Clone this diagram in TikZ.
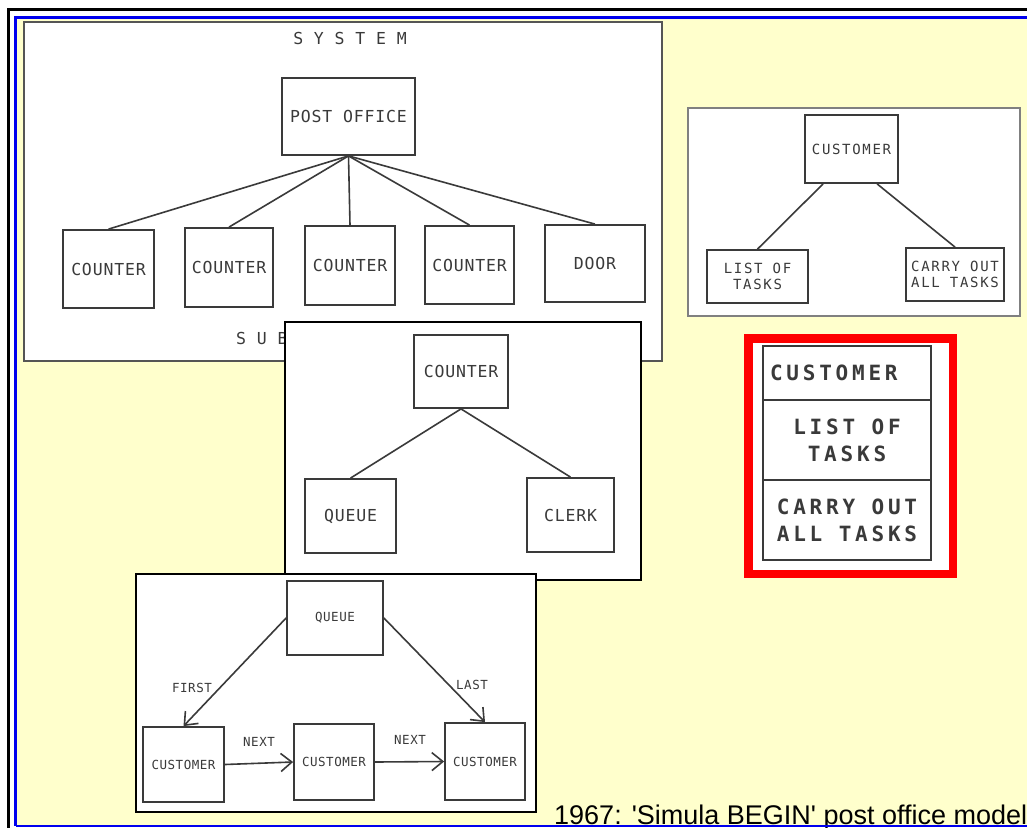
\documentclass[tikz,border=0pt]{standalone}
\usepackage{fontspec}
\usetikzlibrary{arrows.meta,calc}
\newfontfamily\twA{DejaVu Sans Mono}[LetterSpace=5]
\newfontfamily\twB{DejaVu Sans Mono}[LetterSpace=4]
\newfontfamily\twC{DejaVu Sans Mono}[LetterSpace=12]
\newfontfamily\twD{DejaVu Sans Mono Bold}[LetterSpace=18]
\newfontfamily\capfont{Liberation Sans}[Ligatures=TeXOff]
\newcommand\wsp{\hspace*{16.4pt}}
\definecolor{ink}{HTML}{3A3A3A}
\definecolor{paper}{HTML}{FFFFCC}
\definecolor{frameblue}{HTML}{0000EE}
\definecolor{panelgray}{HTML}{555555}
\tikzset{
  panel/.style={draw=#1, fill=white, line width=1.2pt, inner sep=0pt},
  bx/.style={draw=ink, line width=1.8pt, fill=white, inner sep=0pt, text=ink, align=center},
  lab/.style={text=ink, inner sep=0pt},
  ln/.style={draw=ink, line width=1.6pt},
  arr/.style={draw=ink, line width=1.6pt, -{Straight Barb[length=11pt,width=18pt]}},
  fA/.style={font=\twA\fontsize{16.5}{18}\selectfont},
  fB/.style={font=\twB\fontsize{12.5}{14}\selectfont},
  fC/.style={font=\twC\fontsize{14}{16}\selectfont},
  fD/.style={font=\twD\fontsize{21}{27}\selectfont},
  cell/.style={draw=ink, line width=2.2pt, fill=white, inner ysep=0pt, text=ink, fD}
}
\begin{document}
\begin{tikzpicture}[x=1pt,y=-1pt]
\useasboundingbox (0,0) rectangle (1027,827);
\clip (0,0) rectangle (1027,827);
\fill[white] (0,0) rectangle (1027,827);
% page frame
\fill[paper] (17,19) rectangle (1030,825);
\draw[black, line width=3pt] (1030,9.5) -- (8.5,9.5) -- (8.5,830);
\draw[frameblue, line width=2.5pt] (1030,17.5) -- (15.5,17.5) -- (15.5,826);

% ---------- panel 1: system ----------
\node[panel=panelgray, minimum width=638pt, minimum height=339pt] (p1) at (343,191.5) {};
\node[lab, fA] (sys) at (350,38) {S Y S T E M};
\node[bx, fA, minimum width=133pt, minimum height=77pt] (po) at (348.5,116.5) {POST OFFICE};
\node[bx, fA, minimum width=91pt, minimum height=78pt] (c1) at (108.5,269) {COUNTER};
\node[bx, fA, minimum width=88pt, minimum height=79pt] (c2) at (229,267.5) {COUNTER};
\node[bx, fA, minimum width=90pt, minimum height=79pt] (c3) at (350,265.5) {COUNTER};
\node[bx, fA, minimum width=89pt, minimum height=78pt] (c4) at (469.5,265) {COUNTER};
\node[bx, fA, minimum width=100pt, minimum height=77pt] (c5) at (595,263.5) {DOOR};
\foreach \c in {c1,c2,c3,c4,c5} \draw[ln] (po.south) -- (\c.north);
\node[lab, fA, anchor=west] (sub) at (236,338) {S U B};

% ---------- panel 2: counter ----------
\node[panel=black, minimum width=356pt, minimum height=258pt] (p2) at (463,451) {};
\node[bx, fA, minimum width=94pt, minimum height=73pt] (ct) at (461,371.5) {COUNTER};
\node[bx, fA, minimum width=91pt, minimum height=74pt] (qu) at (350.5,516) {QUEUE};
\node[bx, fA, minimum width=87pt, minimum height=74pt] (cl) at (570.5,515) {CLERK};
\draw[ln] (ct.south) -- (qu.north);
\draw[ln] (ct.south) -- (cl.north);

% ---------- panel 3: queue ----------
\node[panel=black, minimum width=400pt, minimum height=238pt] (p3) at (336,693) {};
\node[bx, fB, minimum width=96pt, minimum height=74pt] (q) at (335,618) {QUEUE};
\node[bx, fB, minimum width=81pt, minimum height=75pt] (k1) at (183.5,764.5) {CUSTOMER};
\node[bx, fB, minimum width=80pt, minimum height=76pt] (k2) at (334,762) {CUSTOMER};
\node[bx, fB, minimum width=80pt, minimum height=77pt] (k3) at (485,761.5) {CUSTOMER};
\draw[arr] (q.west) -- (k1.north);
\draw[arr] (q.east) -- (k3.north);
\draw[arr] (k1.east) -- (k2.west);
\draw[arr] (k2.east) -- (k3.west);
\node[lab, fB] (first) at (192,688) {FIRST};
\node[lab, fB] (last) at (472,685) {LAST};
\node[lab, fB] (next1) at (259,742) {NEXT};
\node[lab, fB] (next2) at (410,740) {NEXT};

% ---------- panel 4: customer ----------
\node[panel=gray, minimum width=332pt, minimum height=208pt] (p4) at (854,212) {};
\node[bx, fC, minimum width=93pt, minimum height=68pt] (cu) at (851.5,149) {CUSTOMER};
\node[bx, fC, minimum width=101pt, minimum height=53pt] (lt) at (757.5,276.5) {LIST OF\\TASKS};
\node[bx, fC, minimum width=98pt, minimum height=53pt] (co) at (955,274.5) {CARRY OUT\\ALL TASKS};
\draw[ln] ($(cu.south west)!0.2!(cu.south east)$) -- (lt.north);
\draw[ln] ($(cu.south west)!0.77!(cu.south east)$) -- (co.north);

% ---------- red-framed class box ----------
\node[draw=red, fill=white, line width=8.5pt, minimum width=204.5pt, minimum height=235.5pt, inner sep=0pt] (rb) at (850.5,456) {};
\node[cell, text width=154pt, inner xsep=7pt, align=left, minimum height=54pt] (r1) at (847,373) {CUSTOMER};
\node[cell, text width=154pt, inner xsep=7pt, align=center, minimum height=80pt] (r2) at (847,440) {LIST\wsp OF\\TASKS};
\node[cell, text width=154pt, inner xsep=7pt, align=center, minimum height=80pt] (r3) at (847,520) {CARRY\wsp OUT\\ALL\wsp TASKS};

% ---------- caption ----------
\node[anchor=base west, inner sep=0pt, font=\capfont\fontsize{27}{30}\selectfont] (cap) at (554,824) {1967: 'Simula BEGIN' post office model};
\draw[frameblue, line width=2.5pt] (15.5,826) -- (1030,826);
\end{tikzpicture}
\end{document}
